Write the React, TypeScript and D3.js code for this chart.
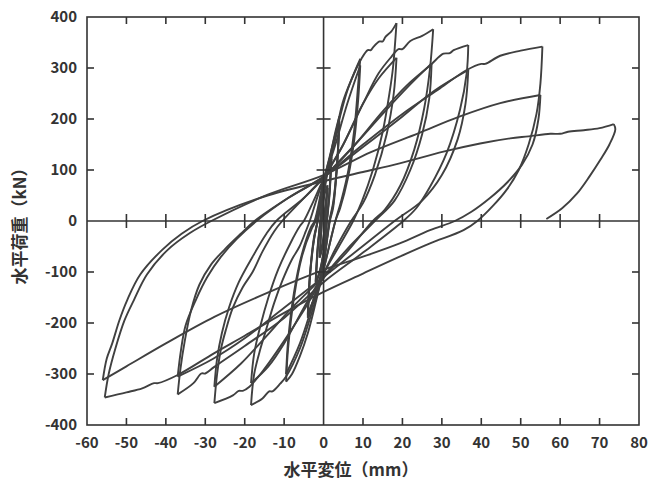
import React, { useRef, useEffect } from 'react';
import * as d3 from 'd3';

type Pt = [number, number];

// displacement (mm), load (kN) — half cycles, peak to peak
// small cycles near the origin
const small1: Pt[] = [[0, 0], [0.5, 35], [1, 65]];
const small2: Pt[] = [[1, 65], [0.6, 20], [0, -30], [-0.6, -55], [-1, -70]];
const small3: Pt[] = [[-1, -70], [-0.6, -20], [0, 40], [0.5, 60], [1, 70]];
const small4: Pt[] = [[1, 70], [0.6, 25], [0, -35], [-0.5, -60], [-1, -72]];
const small5: Pt[] = [[-1, -72], [-0.6, -20], [0, 45], [1, 95], [2, 130]];
const small6: Pt[] = [[2, 130], [1.5, 60], [0.8, 0], [0, -60], [-1, -100], [-2, -125]];
const small7: Pt[] = [[-2, -125], [-1.5, -60], [-0.8, 0], [0, 55], [1, 100], [2, 125]];
const small8: Pt[] = [[2, 125], [1.5, 55], [0.8, 0], [0, -62], [-1, -100], [-2, -120]];
const small9: Pt[] = [[-2, -120], [-1.5, -55], [-0.8, 0], [0, 58], [1, 98], [2, 122]];
const small10: Pt[] = [[2, 122], [1.5, 50], [0.8, -5], [0, -65], [-1, -102], [-2, -118]];
const small11: Pt[] = [[-2, -118], [-1.5, -50], [-0.8, 0], [0, 60], [1.5, 120], [3, 175], [4, 205]];
const small12: Pt[] = [[4, 205], [3.5, 120], [2.5, 40], [1.5, 0], [0, -80], [-1.5, -130], [-3, -165], [-4, -190]];
const small13: Pt[] = [[-4, -190], [-3.5, -110], [-2.5, -40], [-1.5, 0], [0, 65], [2, 135], [4, 195]];
const small14: Pt[] = [[4, 195], [3.4, 110], [2.4, 30], [1.5, 0], [0, -82], [-1.5, -130], [-4, -185]];
const small15: Pt[] = [[-4, -185], [-3.4, -105], [-2.4, -35], [-1.5, 0], [0, 68], [2, 132], [4, 190]];
const small16: Pt[] = [[4, 190], [3.4, 105], [2.4, 25], [1.6, 0], [0, -85], [-1.5, -132], [-4, -182]];

// 9.5 mm
const up1: Pt[] = [[-4, -182], [-3.4, -100], [-2.4, -30], [-1.5, 0], [0, 75], [2, 140], [4, 200], [6, 255], [8, 295], [9.3, 318]];
const down1: Pt[] = [[9.3, 318], [8.8, 270], [7.8, 180], [6.3, 100], [4.5, 40], [3, 0], [0, -95], [-2, -160], [-4, -220], [-6, -265], [-8, -300], [-9.5, -315]];
const up2: Pt[] = [[-9.5, -315], [-9, -250], [-7.5, -150], [-5.5, -70], [-3, -15], [-2, 0], [0, 75], [3, 150], [6, 230], [9.3, 305]];
const down2: Pt[] = [[9.3, 305], [8.8, 240], [7.8, 160], [6.2, 85], [4.2, 25], [3, 0], [0, -95], [-3, -170], [-6, -240], [-9.5, -300]];

// 18.5 mm
const up3: Pt[] = [[-9.5, -300], [-9, -235], [-7.5, -140], [-5.5, -65], [-3.2, -12], [-2.3, 0], [0, 80], [2.5, 150], [4.8, 231], [7, 276], [9.6, 318], [11.2, 335], [12, 335], [12.6, 341], [14.2, 352], [15, 352], [15.7, 361], [17.2, 372], [18.5, 388]];
const down3: Pt[] = [[18.5, 388], [17.6, 300], [16.8, 255], [15, 175], [12.5, 100], [9.8, 40], [7.5, 0], [3.5, -55], [0, -105], [-3, -180], [-6, -250], [-9.5, -305], [-11, -319], [-13, -334], [-13.8, -334], [-15.5, -348], [-18.4, -361]];
const up4: Pt[] = [[-18.4, -361], [-17.6, -300], [-16, -250], [-14.6, -214], [-12.5, -160], [-10.4, -116], [-8, -75], [-6.1, -50], [-4.5, -20], [-3.5, 0], [0, 80], [5, 150], [10, 230], [14, 280], [18.5, 320]];
const down4: Pt[] = [[18.5, 320], [17.8, 250], [16, 170], [13, 90], [10, 35], [7, 0], [3, -55], [0, -102], [-5, -170], [-10, -240], [-14, -285], [-18.4, -318]];

// 28 mm
const up5: Pt[] = [[-18.4, -318], [-17.6, -260], [-16, -205], [-14, -150], [-11.5, -95], [-8.5, -45], [-6, -10], [-5, 0], [-2.5, 40], [0, 82], [5, 150], [10, 230], [14, 290], [17.2, 322], [19, 337], [20, 337], [22, 353], [25, 363], [27.8, 376]];
const down5: Pt[] = [[27.8, 376], [27, 300], [25.5, 220], [23, 140], [19.5, 70], [15.5, 22], [12.5, 0], [6, -60], [0, -112], [-5, -175], [-10, -235], [-15, -290], [-18.8, -325], [-20.5, -333], [-21.5, -333], [-23, -342], [-27.7, -357]];
const up6: Pt[] = [[-27.7, -357], [-27, -300], [-26, -250], [-24.8, -214], [-23, -170], [-20.5, -130], [-18, -100], [-15.5, -60], [-12.5, -20], [-10.5, 0], [-5, 45], [0, 85], [8, 150], [15, 210], [21, 260], [27.4, 309]];
const down6: Pt[] = [[27.4, 309], [26.8, 240], [25, 170], [22, 100], [18, 40], [13, 0], [6, -55], [0, -108], [-8, -170], [-15, -230], [-21, -280], [-27.7, -325]];

// 37 mm
const up7: Pt[] = [[-27.7, -325], [-27, -270], [-25.8, -220], [-24, -170], [-21.5, -120], [-18, -70], [-14.5, -25], [-12, 0], [-5, 45], [0, 84], [8, 150], [15, 215], [21, 265], [27, 305], [30.4, 328], [32, 329], [33, 335], [36.7, 345]];
const down7: Pt[] = [[36.7, 345], [36.3, 290], [34.6, 218], [31.2, 133], [27, 67], [23.5, 25], [20.2, 0], [10, -62], [0, -120], [-10, -190], [-20, -245], [-27.7, -286], [-30, -299], [-31, -299], [-33, -318], [-37, -340]];
const up8: Pt[] = [[-37, -340], [-36.3, -290], [-35.2, -235], [-33.6, -175], [-31.5, -125], [-28.5, -85], [-25, -55], [-21, -25], [-17.5, 0], [-9, 45], [0, 86], [10, 145], [20, 205], [28, 255], [36.7, 296]];
const down8: Pt[] = [[36.7, 296], [36, 230], [34, 160], [30, 90], [25, 40], [18, 0], [9, -55], [0, -110], [-10, -170], [-20, -230], [-28, -270], [-37, -305]];

// 55 mm
const up9: Pt[] = [[-37, -305], [-36.2, -255], [-35, -205], [-32.4, -155], [-29.5, -110], [-26, -70], [-22, -35], [-17, 0], [-9, 45], [0, 87], [10, 150], [20, 210], [29.5, 260], [36.3, 296], [40, 308], [41, 308], [44.8, 324], [50, 334], [55.5, 342]];
const down9: Pt[] = [[55.5, 342], [55, 270], [54, 210], [52, 150], [49.5, 100], [46.5, 62], [43, 30], [39, 0], [35.5, -18], [27, -44], [19.3, -70], [10, -103], [0, -139], [-10, -180], [-20, -225], [-27.7, -259], [-37, -302], [-42, -318], [-43, -318], [-46, -328], [-50, -336], [-55.5, -346]];
const up10: Pt[] = [[-55.5, -346], [-54.5, -300], [-52.8, -250], [-50.5, -195], [-48.1, -155], [-44.8, -105], [-39.6, -57], [-34, -24], [-28.5, 0], [-14, 52], [0, 90], [12, 135], [24, 172], [34.6, 205], [44.8, 231], [55, 247]];
const down10: Pt[] = [[55, 247], [54.5, 200], [53, 150], [50.3, 110], [46.5, 75], [42.2, 45], [37.5, 18], [33.3, 0], [27, -18], [19.3, -44], [10, -70], [0, -96], [-14, -140], [-27.7, -188], [-40, -240], [-50, -285], [-56, -312]];
const up11: Pt[] = [[-56, -312], [-55, -270], [-53.6, -240], [-51.8, -195], [-49.8, -155], [-46.5, -105], [-41, -57], [-36, -25], [-30.7, 0], [-15, 48], [0, 78], [10, 96], [19.3, 113], [30.4, 136], [39.7, 152], [47.3, 162], [52, 166], [57.5, 171], [60, 171], [62, 175], [66, 178], [70, 182], [73.6, 190]];
const lastDown: Pt[] = [[73.6, 190], [74, 180], [72.5, 150], [70.2, 120], [67.5, 88], [64.3, 54], [60.5, 25], [56.5, 4]];

const branches: Pt[][] = [
  small1, small2, small3, small4, small5, small6, small7, small8,
  small9, small10, small11, small12, small13, small14, small15, small16,
  up1, down1, up2, down2, up3, down3, up4, down4, up5, down5, up6, down6,
  up7, down7, up8, down8, up9, down9, up10, down10, up11, lastDown,
];

const xTicks = [-60, -50, -40, -30, -20, -10, 0, 10, 20, 30, 40, 50, 60, 70, 80];
const yTicks = [-400, -300, -200, -100, 0, 100, 200, 300, 400];

const App = () => {
  const svgRef = useRef<SVGSVGElement>(null);

  useEffect(() => {
    const svg = d3.select(svgRef.current);
    svg.selectAll('*').remove();

    const x = d3.scaleLinear().domain([-60, 80]).range([87, 639]);
    const y = d3.scaleLinear().domain([-400, 400]).range([425, 17]);
    const ink = '#333';
    const tick = 7;
    const font = '"Noto Sans CJK JP", "Noto Sans", sans-serif';

    const line = d3
      .line<Pt>()
      .x((d) => x(d[0]))
      .y((d) => y(d[1]))
      .curve(d3.curveCatmullRom.alpha(0.5));

    // hysteresis curves
    svg
      .append('g')
      .selectAll('path')
      .data(branches)
      .join('path')
      .attr('d', (d) => line(d))
      .attr('fill', 'none')
      .attr('stroke', '#404040')
      .attr('stroke-width', 1.9)
      .attr('stroke-linejoin', 'round');

    // frame
    svg
      .append('rect')
      .attr('x', x(-60))
      .attr('y', y(400))
      .attr('width', x(80) - x(-60))
      .attr('height', y(-400) - y(400))
      .attr('fill', 'none')
      .attr('stroke', ink)
      .attr('stroke-width', 1.6);

    // zero lines
    const g = svg.append('g').attr('stroke', ink).attr('stroke-width', 1.6);
    g.append('line').attr('x1', x(-60)).attr('x2', x(80)).attr('y1', y(0)).attr('y2', y(0));
    g.append('line').attr('x1', x(0)).attr('x2', x(0)).attr('y1', y(-400)).attr('y2', y(400));

    // ticks (inward) + ticks on zero lines
    xTicks
      .filter((t) => t > -60 && t < 80 && t !== 0)
      .forEach((t) => {
        g.append('line').attr('x1', x(t)).attr('x2', x(t)).attr('y1', y(400)).attr('y2', y(400) + tick);
        g.append('line').attr('x1', x(t)).attr('x2', x(t)).attr('y1', y(-400)).attr('y2', y(-400) - tick);
        g.append('line').attr('x1', x(t)).attr('x2', x(t)).attr('y1', y(0) - tick).attr('y2', y(0) + tick);
      });
    yTicks
      .filter((t) => t > -400 && t < 400 && t !== 0)
      .forEach((t) => {
        g.append('line').attr('x1', x(-60)).attr('x2', x(-60) + tick).attr('y1', y(t)).attr('y2', y(t));
        g.append('line').attr('x1', x(80)).attr('x2', x(80) - tick).attr('y1', y(t)).attr('y2', y(t));
        g.append('line').attr('x1', x(0) - tick).attr('x2', x(0) + tick).attr('y1', y(t)).attr('y2', y(t));
      });

    // tick labels
    svg
      .append('g')
      .selectAll('text')
      .data(yTicks)
      .join('text')
      .attr('x', 77)
      .attr('y', (d) => y(d))
      .attr('dy', '0.36em')
      .attr('text-anchor', 'end')
      .attr('font-family', font)
      .attr('font-size', 15)
      .attr('font-weight', 700)
      .attr('fill', ink)
      .text((d) => d);

    svg
      .append('g')
      .selectAll('text')
      .data(xTicks)
      .join('text')
      .attr('x', (d) => x(d))
      .attr('y', 443)
      .attr('dy', '0.36em')
      .attr('text-anchor', 'middle')
      .attr('font-family', font)
      .attr('font-size', 15)
      .attr('font-weight', 700)
      .attr('fill', ink)
      .text((d) => d);

    // axis titles
    svg
      .append('text')
      .attr('x', 351)
      .attr('y', 470)
      .attr('dy', '0.36em')
      .attr('text-anchor', 'middle')
      .attr('font-family', font)
      .attr('font-size', 17)
      .attr('font-weight', 700)
      .attr('fill', ink)
      .text('水平変位（mm）');

    svg
      .append('text')
      .attr('transform', 'translate(20,222) rotate(-90)')
      .attr('dy', '0.36em')
      .attr('text-anchor', 'middle')
      .attr('font-family', font)
      .attr('font-size', 17)
      .attr('font-weight', 700)
      .attr('fill', ink)
      .text('水平荷重（kN）');
  }, []);

  return (
    <svg
      ref={svgRef}
      width={649}
      height={482}
      style={{ position: 'absolute', left: 0, top: 0, background: '#fff' }}
    ></svg>
  );
};

export default App;
